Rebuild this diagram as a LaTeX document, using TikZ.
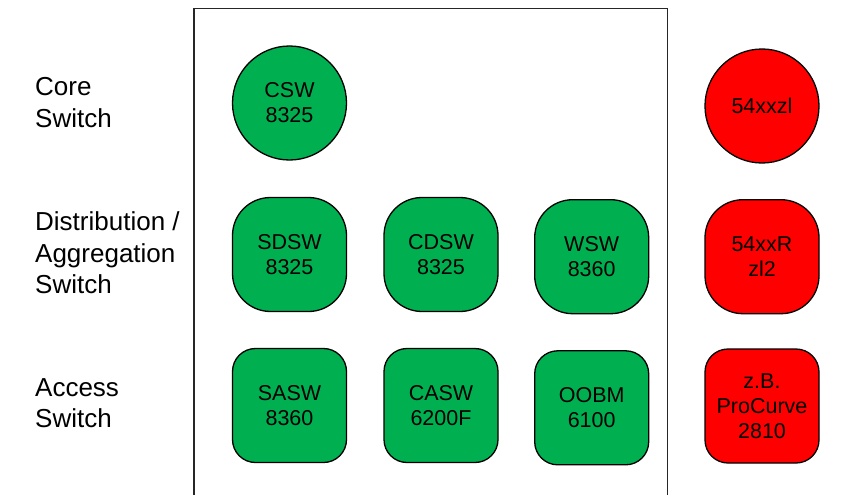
\documentclass[tikz,border=0pt]{standalone}
\usepackage{fontspec}
\setmainfont{Liberation Sans}
\definecolor{xlgreen}{HTML}{00B050}
\definecolor{xlred}{HTML}{FF0000}
\begin{document}
\begin{tikzpicture}[x=1pt,y=-1pt,
  sw/.style={draw=black,line width=1.3pt,minimum width=114pt,minimum height=114pt,inner sep=0pt,align=center,font=\fontsize{21.5}{25}\selectfont},
  green/.style={sw,fill=xlgreen},
  red/.style={sw,fill=xlred},
  circ/.style={circle},
  dist/.style={rectangle,rounded corners=38pt},
  acc/.style={rectangle,rounded corners=23pt},
  lbl/.style={anchor=west,align=left,inner sep=0pt,font=\fontsize{26}{31.5}\selectfont}]
\useasboundingbox (0,0) rectangle (859,495);
\draw[line width=1.3pt,draw=black!85] (194,500) -- (194,8.5) -- (667.5,8.5) -- (667.5,500);
\node[lbl] (lcore) at (35,102.5) {Core\\Switch};
\node[lbl] (ldist) at (35,253) {Distribution /\\Aggregation\\Switch};
\node[lbl] (lacc) at (35,403) {Access\\Switch};
\node[green,circ] (csw) at (289.5,103) {CSW\\8325};
\node[green,dist] (sdsw) at (289.5,254.5) {SDSW\\8325};
\node[green,dist] (cdsw) at (441,254.5) {CDSW\\8325};
\node[green,dist] (wsw) at (591.7,256.7) {WSW\\8360};
\node[green,acc] (sasw) at (289.5,405.5) {SASW\\8360};
\node[green,acc] (casw) at (441,405.5) {CASW\\6200F};
\node[green,acc] (oobm) at (591.7,407.8) {OOBM\\6100};
\node[red,circ] (r1) at (762,106) {54xxzl};
\node[red,dist] (r2) at (762,256.7) {54xxR\\zl2};
\node[red,acc] (r3) at (762,406) {z.B.\\ProCurve\\2810};
\end{tikzpicture}
\end{document}
